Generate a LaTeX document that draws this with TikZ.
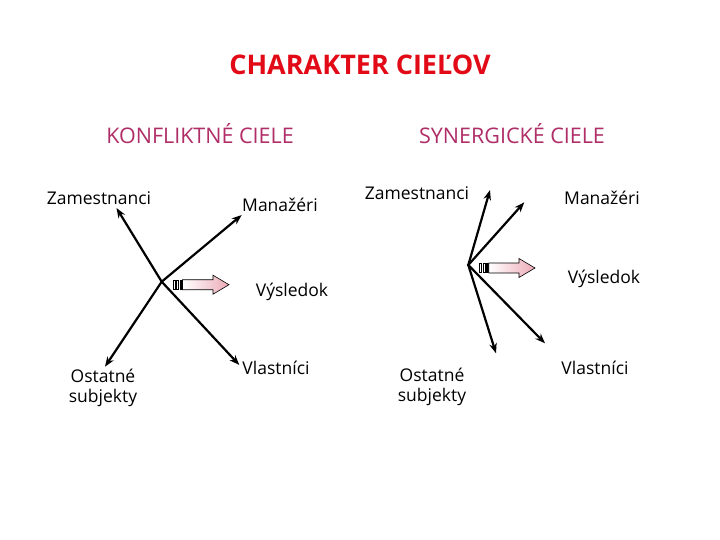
\documentclass[tikz,border=0pt]{standalone}
\usepackage{fontspec}
\setmainfont{Open Sans}
\usetikzlibrary{arrows.meta}
\definecolor{titlered}{RGB}{226,10,22}
\definecolor{subpurple}{RGB}{176,46,104}
\definecolor{arrowpink}{RGB}{236,170,182}
\tikzset{
  x=1pt, y=-1pt,
  ttl/.style={font=\fontsize{27}{30}\selectfont\bfseries, text=titlered, inner sep=0pt, anchor=base},
  sub/.style={font=\fontsize{21.5}{24}\selectfont, text=subpurple, inner sep=0pt, anchor=base},
  lbl/.style={font=\fontsize{17.5}{19.5}\selectfont, inner sep=0pt, anchor=base},
  lbl2/.style={font=\fontsize{17.5}{19.5}\selectfont, inner sep=0pt, align=center, anchor=north},
  vec/.style={line width=2.2pt, -{Stealth[length=10pt,width=7.5pt]}, shorten <=-0.8pt},
  fat/.style={draw=black, line width=0.6pt, left color=white, right color=arrowpink},
  stripe/.style={draw=black, line width=0.6pt, fill=white},
}
\newcommand{\blockarrow}[4]{% name, x0 (stripes start), y center, tip x
  \coordinate (#1) at (#2,#3);
  \draw[stripe] (#2,#3-4.5) rectangle ++(2,9);
  \draw[stripe] (#2+3.5,#3-4.5) rectangle ++(2,9);
  \fill[black] (#2+7,#3-5) rectangle ++(2.5,10);
  \draw[fat] (#2+9.5,#3-5) -- (#4-16,#3-5) -- (#4-16,#3-9.5) -- (#4,#3)
     -- (#4-16,#3+9.5) -- (#4-16,#3+5) -- (#2+9.5,#3+5) -- cycle;
}
\begin{document}
\begin{tikzpicture}
\useasboundingbox (0,0) rectangle (720,540);
\fill[white] (0,0) rectangle (720,540);

% titles
\node[ttl] (title) at (360,75) {CHARAKTER CIEĽOV};
\node[sub] (konf) at (200,144) {KONFLIKTNÉ CIELE};
\node[sub] (syn) at (512,144) {SYNERGICKÉ CIELE};

% ---------- left: conflicting goals
\node[lbl] (zamL) at (99,205) {Zamestnanci};
\node[lbl] (manL) at (280,211.5) {Manažéri};
\node[lbl] (vysL) at (292,296) {Výsledok};
\node[lbl2] (ostL) at (103,369) {Ostatné\\subjekty};
\node[lbl] (vlaL) at (276,374) {Vlastníci};

\coordinate (cL) at (161.7,281.7);
\coordinate (zL) at (116.5,208);
\coordinate (vL) at (239.3,365);
\coordinate (mL) at (241.7,215);
\coordinate (oL) at (105,366.7);
\draw[vec] (cL) -- (zL);
\draw[vec] (cL) -- (mL);
\draw[vec] (cL) -- (oL);
\draw[vec] (cL) -- (vL);
\blockarrow{bL}{173}{284.7}{229}

% ---------- right: synergic goals
\node[lbl] (zamR) at (417,200) {Zamestnanci};
\node[lbl] (manR) at (602,204.3) {Manažéri};
\node[lbl] (vysR) at (604,283.3) {Výsledok};
\node[lbl2] (ostR) at (432,368) {Ostatné\\subjekty};
\node[lbl] (vlaR) at (595,374) {Vlastníci};

\coordinate (cR) at (468.3,265);
\coordinate (zR) at (490,190);
\coordinate (mR) at (524.3,202.3);
\coordinate (oR) at (496,353.3);
\coordinate (vR) at (545,343.3);
\draw[vec] (cR) -- (zR);
\draw[vec] (cR) -- (mR);
\draw[vec] (cR) -- (oR);
\draw[vec] (cR) -- (vR);
\blockarrow{bR}{479.3}{268}{535}
\end{tikzpicture}
\end{document}
